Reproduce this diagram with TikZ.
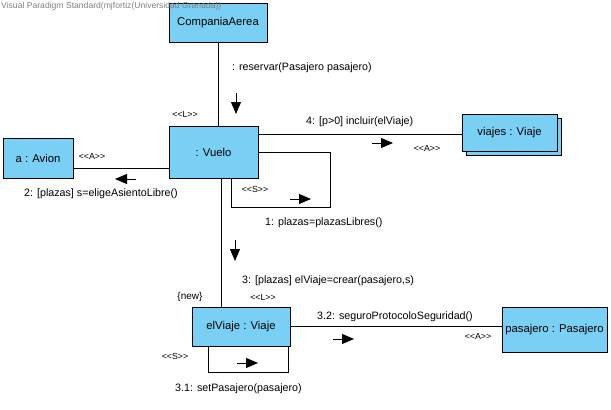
\documentclass[tikz,border=0pt]{standalone}
\usepackage{fontspec}
\setmainfont{Liberation Sans}
\usetikzlibrary{arrows.meta,calc}
\definecolor{boxfill}{RGB}{122,207,245}
\definecolor{wmgray}{RGB}{128,128,128}
\tikzset{
  obj/.style={draw=black, fill=boxfill, line width=0.9pt, inner sep=0pt, font=\fontsize{11.3}{13}\selectfont},
  lnk/.style={draw=black, line width=0.8pt},
  msg/.style={line width=0.9pt, -{Triangle[length=12pt,width=10pt]}},
  lab/.style={font=\fontsize{10.7}{12}\selectfont, inner sep=0pt, anchor=west},
  stereo/.style={font=\fontsize{8.8}{10}\selectfont, inner sep=0pt},
}
\begin{document}
\begin{tikzpicture}[x=1pt,y=-1pt]
\useasboundingbox (0,0) rectangle (611,410);
% objects
\node[obj, minimum width=98, minimum height=39] (comp) at (218,22.5) {CompaniaAerea};
\node[obj, minimum width=89, minimum height=52] (vuelo) at (213.5,152) {: Vuelo};
\node[obj, minimum width=70, minimum height=40] (avion) at (38,158) {a : Avion};
\fill[boxfill, draw=black, line width=0.9pt] (466,118) rectangle (561,155);
\node[obj, minimum width=95, minimum height=37] (viajes) at (509.5,132.5) {viajes : Viaje};
\node[obj, minimum width=98, minimum height=39] (elviaje) at (241,326.5) {elViaje : Viaje};
\node[obj, minimum width=105, minimum height=45] (pasajero) at (554.5,329.5) {pasajero : Pasajero};
% links
\coordinate (vdown) at ($(vuelo.south west)+(53,0)$);
\coordinate (vloop) at ($(vuelo.south west)+(63,0)$);
\coordinate (eloopa) at ($(elviaje.south west)+(17,0)$);
\coordinate (eloopb) at ($(elviaje.south east)+(-2,0)$);
\draw[lnk] (comp.south) -- (comp.south |- vuelo.north);
\draw[lnk] ([yshift=-10pt]avion.east) -- ([yshift=-10pt]avion.east -| vuelo.west);
\draw[lnk] ([yshift=-1.5pt]viajes.west) -- ([yshift=-1.5pt]viajes.west -| vuelo.east);
\draw[lnk] (vuelo.east) -- ++(72,0) -- ++(0,55) -| (vloop);
\draw[lnk] (vdown) -- (vdown |- elviaje.north);
\draw[lnk] (elviaje.east) -- (elviaje.east -| pasajero.west);
\draw[lnk] (eloopa) -- ++(0,26) -| (eloopb);
% message arrows
\coordinate (m1a) at (236,93); \coordinate (m1b) at (236,114);
\coordinate (m2a) at (136,179); \coordinate (m2b) at (115,179);
\coordinate (m4a) at (372,143); \coordinate (m4b) at (393,143);
\coordinate (s1a) at (290,199); \coordinate (s1b) at (311,199);
\coordinate (m3a) at (235,240); \coordinate (m3b) at (235,261);
\coordinate (m32a) at (333,339); \coordinate (m32b) at (354,339);
\coordinate (m31a) at (237,363); \coordinate (m31b) at (258,363);
\draw[msg] (m1a) -- (m1b);
\draw[msg] (m2a) -- (m2b);
\draw[msg] (m4a) -- (m4b);
\draw[msg] (s1a) -- (s1b);
\draw[msg] (m3a) -- (m3b);
\draw[msg] (m32a) -- (m32b);
\draw[msg] (m31a) -- (m31b);
% labels
\node[lab] (l0) at (232,68) {: reservar(Pasajero pasajero)};
\node[stereo] (st1) at (185,114) {<{}<L>{}>};
\node[lab] (l4) at (306,122) {4: [p>0] incluir(elViaje)};
\node[stereo] (st2) at (427,148) {<{}<A>{}>};
\node[stereo] (st3) at (92,156) {<{}<A>{}>};
\node[lab] (l2) at (24,194) {2: [plazas] s=eligeAsientoLibre()};
\node[stereo] (st4) at (255,189) {<{}<S>{}>};
\node[lab] (l1) at (265,223) {1: plazas=plazasLibres()};
\node[lab] (l3) at (242,281) {3: [plazas] elViaje=crear(pasajero,s)};
\node[stereo] (st5) at (263,297) {<{}<L>{}>};
\node[stereo, font=\fontsize{10}{11}\selectfont] (new) at (190,297) {\{new\}};
\node[lab] (l32) at (317,317) {3.2: seguroProtocoloSeguridad()};
\node[stereo] (st6) at (478,336) {<{}<A>{}>};
\node[stereo] (st7) at (175,356) {<{}<S>{}>};
\node[lab] (l31) at (175,389) {3.1: setPasajero(pasajero)};
% watermark (drawn on top)
\node[lab, font=\fontsize{8.6}{10}\selectfont, text=wmgray] (wm) at (1,6) {Visual Paradigm Standard(mjfortiz(Universidad Granada))};
\end{tikzpicture}
\end{document}
